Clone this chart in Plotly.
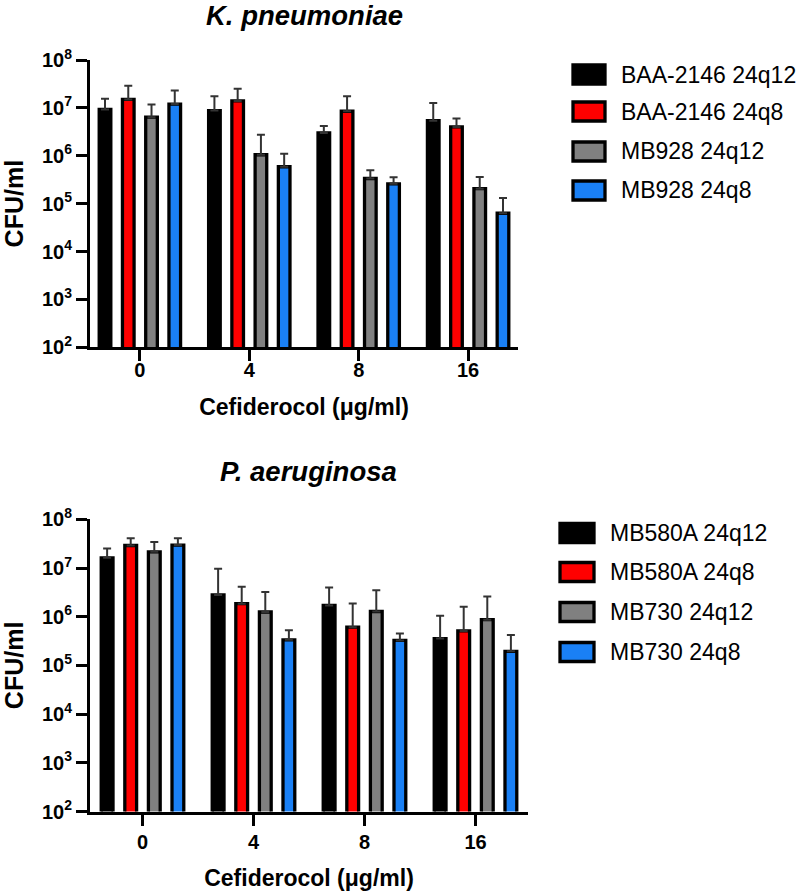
import plotly.graph_objects as go

# ---------------- data ----------------
doses = ["0", "4", "8", "16"]

kp_title = "K. pneumoniae"
kp_names = ["BAA-2146 24q12", "BAA-2146 24q8", "MB928 24q12", "MB928 24q8"]
kp_baa_q12 = [9.3e6, 8.8e6, 3.0e6, 5.4e6]
kp_baa_q12_err = [6.2e6, 8.6e6, 1.2e6, 7.2e6]
kp_baa_q8 = [1.5e7, 1.4e7, 8.5e6, 4.0e6]
kp_baa_q8_err = [1.4e7, 1.1e7, 8.9e6, 2.0e6]
kp_mb928_q12 = [6.4e6, 1.05e6, 3.35e5, 2.05e5]
kp_mb928_q12_err = [5.3e6, 1.7e6, 1.65e5, 1.55e5]
kp_mb928_q8 = [1.2e7, 5.9e5, 2.6e5, 6.3e4]
kp_mb928_q8_err = [1.1e7, 5.1e5, 9.5e4, 6.9e4]

pa_title = "P. aeruginosa"
pa_names = ["MB580A 24q12", "MB580A 24q8", "MB730 24q12", "MB730 24q8"]
pa_mb580_q12 = [1.62e7, 2.8e6, 1.7e6, 3.55e5]
pa_mb580_q12_err = [8.8e6, 6.8e6, 2.3e6, 6.95e5]
pa_mb580_q8 = [2.9e7, 1.85e6, 6.1e5, 5.1e5]
pa_mb580_q8_err = [1.2e7, 2.25e6, 1.25e6, 1.09e6]
pa_mb730_q12 = [2.15e7, 1.25e6, 1.28e6, 8.7e5]
pa_mb730_q12_err = [1.25e7, 1.95e6, 2.22e6, 1.73e6]
pa_mb730_q8 = [2.95e7, 3.35e5, 3.25e5, 1.95e5]
pa_mb730_q8_err = [1.15e7, 1.95e5, 1.25e5, 2.25e5]

ytick_exps = [2, 3, 4, 5, 6, 7, 8]

colors = ["#000000", "#FF0000", "#808080", "#1A80F5"]
FONT = "Liberation Sans, Arial, Helvetica, sans-serif"
W, H = 800, 891
OFF = 0  # body margin removed via post_script

kp_series = [(kp_baa_q12, kp_baa_q12_err), (kp_baa_q8, kp_baa_q8_err),
             (kp_mb928_q12, kp_mb928_q12_err), (kp_mb928_q8, kp_mb928_q8_err)]
pa_series = [(pa_mb580_q12, pa_mb580_q12_err), (pa_mb580_q8, pa_mb580_q8_err),
             (pa_mb730_q12, pa_mb730_q12_err), (pa_mb730_q8, pa_mb730_q8_err)]

fig = go.Figure()

def add_panel(series, names, xa, ya):
    for (vals, errs), name, col in zip(series, names, colors):
        fig.add_trace(go.Bar(
            x=doses, y=vals, name=name, xaxis=xa, yaxis=ya,
            marker=dict(color=col, line=dict(color="#000000", width=3.3)),
            error_y=dict(type="data", symmetric=False, array=errs,
                         arrayminus=[0] * len(errs), color="#333333",
                         thickness=2, width=4),
            showlegend=False,
        ))

add_panel(kp_series, kp_names, "x", "y")
add_panel(pa_series, pa_names, "x2", "y2")

def px(x):
    return (x - OFF) / W

def py(y):
    return 1 - (y - OFF) / H

tickfont = dict(family=FONT, size=20, color="#000000")
ytext = ["<b>10<sup>%d</sup></b>" % e for e in ytick_exps]
yvals = [10 ** e for e in ytick_exps]
xtext = ["<b>%s</b>" % d for d in doses]

def yaxis_cfg(domain, anchor):
    return dict(
        domain=domain, type="log", range=[2, 8], anchor=anchor, automargin=False,
        tickvals=yvals, ticktext=ytext, tickfont=tickfont,
        showgrid=False, zeroline=False, showline=True, linecolor="#000000",
        linewidth=3, ticks="outside", ticklen=11, tickwidth=3, tickcolor="#000000",
        title=dict(text="<b>CFU/ml</b>", font=dict(family=FONT, size=25, color="#000000"),
                   standoff=19),
    )

def xaxis_cfg(domain, rng, anchor, lab_off, title_off):
    return dict(
        domain=domain, type="category", range=rng, anchor=anchor, automargin=False,
        tickvals=doses, ticktext=xtext, tickfont=tickfont, ticklabelstandoff=lab_off,
        showgrid=False, zeroline=False, showline=True, linecolor="#000000",
        linewidth=3, ticks="outside", ticklen=11, tickwidth=3, tickcolor="#000000",
        title=dict(text="<b>Cefiderocol (\u03bcg/ml)</b>",
                   font=dict(family=FONT, size=23, color="#000000"), standoff=title_off),
    )

shapes = []
annotations = []

# Panel titles
annotations.append(dict(text="<b><i>%s</i></b>" % kp_title, xref="paper", yref="paper",
                        x=px(304), y=py(15.5), xanchor="center", yanchor="middle",
                        showarrow=False, font=dict(family=FONT, size=27.5, color="#000000")))
annotations.append(dict(text="<b><i>%s</i></b>" % pa_title, xref="paper", yref="paper",
                        x=px(308), y=py(471), xanchor="center", yanchor="middle",
                        showarrow=False, font=dict(family=FONT, size=27.5, color="#000000")))

def add_legend(names, sw_x0, sw_x1, txt_x, row_ys):
    for name, col, yc in zip(names, colors, row_ys):
        shapes.append(dict(type="rect", xref="paper", yref="paper",
                           x0=px(sw_x0), x1=px(sw_x1), y0=py(yc - 9.5), y1=py(yc + 9.5),
                           fillcolor=col, line=dict(color="#000000", width=3.3)))
        annotations.append(dict(text=name, xref="paper", yref="paper",
                                x=px(txt_x), y=py(yc), xanchor="left", yanchor="middle",
                                showarrow=False,
                                font=dict(family=FONT, size=23, color="#000000")))

add_legend(kp_names, 573, 605, 619, [74.5, 111.5, 151.5, 190.5])
add_legend(pa_names, 560, 594, 608, [533, 572, 612, 652])

fig.update_layout(
    width=W, height=H,
    margin=dict(l=0, r=0, t=0, b=0, autoexpand=False),
    paper_bgcolor="white", plot_bgcolor="white",
    barmode="group", bargap=0.15, bargroupgap=0.5,
    xaxis=xaxis_cfg([px(90), px(518)], [-0.456, 3.456], "y", -8, 19),
    yaxis=yaxis_cfg([py(347.3), py(60)], "x"),
    xaxis2=xaxis_cfg([px(90), px(528)], [-0.473, 3.473], "y2", -1, 20),
    yaxis2=yaxis_cfg([py(811.5), py(519.3)], "x2"),
    shapes=shapes, annotations=annotations,
    font=dict(family=FONT, color="#000000"),
    hovermode=False,
)

fig.write_html("out.html", config={"displayModeBar": False},
               post_script="document.body.style.margin='0';document.body.style.padding='0';")
